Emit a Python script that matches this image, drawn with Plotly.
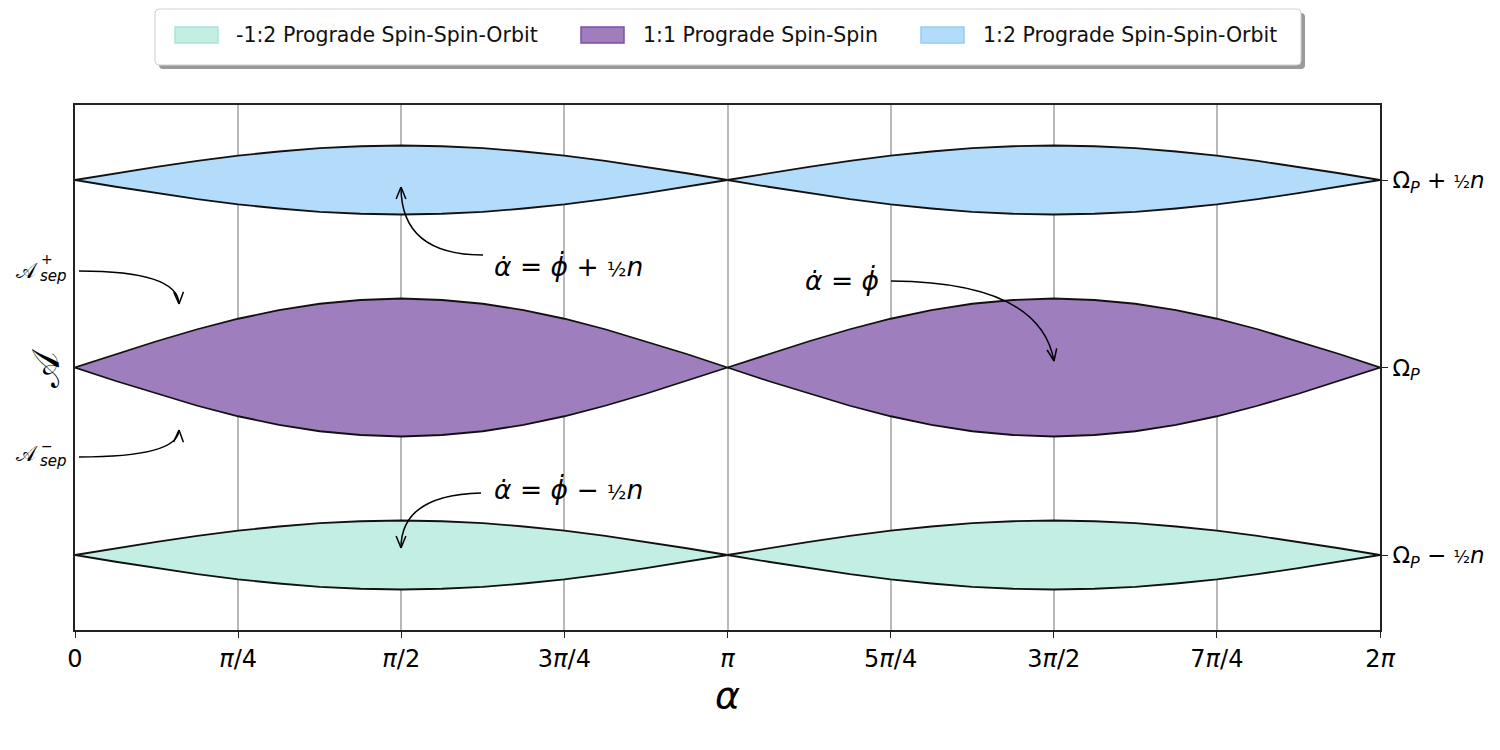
import numpy as np
import plotly.graph_objects as go

FONT = "DejaVu Sans"

# one lobe of each separatrix, alpha from 0 to pi in pi/16 steps
LOBE_STEPS = list(range(17))
HALF_SSO = [0, 0.018, 0.035, 0.051, 0.065, 0.076, 0.085, 0.090, 0.092,
            0.090, 0.085, 0.076, 0.065, 0.051, 0.035, 0.018, 0]
HALF_SS = [0, 0.036, 0.070, 0.102, 0.130, 0.153, 0.170, 0.180, 0.184,
           0.180, 0.170, 0.153, 0.130, 0.102, 0.070, 0.036, 0]

# resonance centres (Omega_P = 0, n = 1)
BANDS = [
    ("-1:2 Prograde Spin-Spin-Orbit", -0.5, HALF_SSO, "#c3eee4", "#a6e5d6"),
    ("1:1 Prograde Spin-Spin", 0.0, HALF_SS, "#9e7ebd", "#7a4fa9"),
    ("1:2 Prograde Spin-Spin-Orbit", 0.5, HALF_SSO, "#b3dcfa", "#96cbf3"),
]
HALF_TICK = "<span style='font-size:17px'>½</span>"
Y_TICKS = [-0.5, 0.0, 0.5]
Y_LABELS = [f"Ω<sub><i>P</i></sub> − {HALF_TICK}<i>n</i>", "Ω<sub><i>P</i></sub>",
            f"Ω<sub><i>P</i></sub> + {HALF_TICK}<i>n</i>"]
X_TICKS = [k * np.pi / 4 for k in range(9)]
X_LABELS = ["0", "<i>π</i>/4", "<i>π</i>/2", "3<i>π</i>/4", "<i>π</i>",
            "5<i>π</i>/4", "3<i>π</i>/2", "7<i>π</i>/4", "2<i>π</i>"]
Y_RANGE = [-0.7, 0.7]

# plot box in page pixels; the page body adds an 8px margin all round
L, R, T, B = 75, 1380, 105, 630
OFF = 8
W, H = 1500 - 2 * OFF, 750 - 2 * OFF


def px(x):
    return (x - L) / (R - L)


def py(y):
    return (B - y) / (B - T)


fig = go.Figure()
lobe_x = np.array(LOBE_STEPS) * np.pi / 16
for name, centre, half, fill, edge in BANDS:
    half = np.array(half)
    for shift in (0, np.pi):
        xs = np.concatenate([lobe_x + shift, (lobe_x + shift)[::-1]])
        ys = np.concatenate([centre + half, (centre - half)[::-1]])
        fig.add_trace(go.Scatter(
            x=xs, y=ys, fill="toself", fillcolor=fill, mode="lines",
            line=dict(color="#111111", width=1.8), name=name,
            showlegend=False, hoverinfo="skip"))

shapes = []
annotations = []


# legend box drawn by hand (shadow + rounded frame)
def rounded(x0, y0, x1, y1, r):
    return (f"M{px(x0 + r)},{py(y0)} L{px(x1 - r)},{py(y0)} Q{px(x1)},{py(y0)} {px(x1)},{py(y0 + r)} "
            f"L{px(x1)},{py(y1 - r)} Q{px(x1)},{py(y1)} {px(x1 - r)},{py(y1)} "
            f"L{px(x0 + r)},{py(y1)} Q{px(x0)},{py(y1)} {px(x0)},{py(y1 - r)} "
            f"L{px(x0)},{py(y0 + r)} Q{px(x0)},{py(y0)} {px(x0 + r)},{py(y0)} Z")


shapes.append(dict(type="path", xref="paper", yref="paper", path=rounded(159, 13, 1305, 69, 4),
                   fillcolor="#9a9a9a", line=dict(width=0), layer="above"))
shapes.append(dict(type="path", xref="paper", yref="paper", path=rounded(155, 9, 1301, 65, 4),
                   fillcolor="white", line=dict(color="#cfcfcf", width=1), layer="above"))
legend_x = [(175, 234), (581, 641), (921, 981)]
for (x0, tx), (name, _, _, fill, edge) in zip(legend_x, BANDS):
    shapes.append(dict(type="rect", xref="paper", yref="paper",
                       x0=px(x0), x1=px(x0 + 43), y0=py(27), y1=py(43),
                       fillcolor=fill, line=dict(color=edge, width=1.5), layer="above"))
    annotations.append(dict(x=px(tx), y=py(35), xref="paper", yref="paper", text=name,
                            showarrow=False, xanchor="left", yanchor="middle",
                            font=dict(family=FONT, size=20.5, color="#111111")))

# curved arrows: start, control, tip (pixels)
ARROWS = [
    ((483, 255), (401, 255), (401, 187)),
    ((891, 281), (1040, 282), (1054, 361)),
    ((481, 493), (401, 495), (401, 548)),
    ((79, 271), (178, 271), (179, 304)),
    ((79, 457), (178, 457), (179, 430)),
]
for (sx, sy), (cx, cy), (tx, ty) in ARROWS:
    shapes.append(dict(type="path", xref="paper", yref="paper",
                       path=f"M{px(sx)},{py(sy)} Q{px(cx)},{py(cy)} {px(tx)},{py(ty)}",
                       line=dict(color="black", width=1.5), layer="above"))
    d = np.array([tx - cx, ty - cy], dtype=float)
    d /= np.hypot(*d)
    for sgn in (1, -1):
        a = np.radians(22) * sgn
        rot = np.array([d[0] * np.cos(a) - d[1] * np.sin(a), d[0] * np.sin(a) + d[1] * np.cos(a)])
        hx, hy = tx - 13 * rot[0], ty - 13 * rot[1]
        shapes.append(dict(type="line", xref="paper", yref="paper",
                           x0=px(tx), y0=py(ty), x1=px(hx), y1=py(hy),
                           line=dict(color="black", width=1.5), layer="above"))

ADOT = "<i>α\u0307</i>"
PDOT = "<i>ϕ\u0307</i>"
HALF_EQ = "<span style='font-size:20px'>½</span>"
LABELS = [
    (568, 266, f"{ADOT} = {PDOT} + {HALF_EQ}<i>n</i>", 26.5),
    (842, 280, f"{ADOT} = {PDOT}", 26.5),
    (568, 489, f"{ADOT} = {PDOT} − {HALF_EQ}<i>n</i>", 26.5),
    (27, 271, "𝒜", 21),
    (47, 259, "+", 14),
    (53, 276, "<i>sep</i>", 15),
    (27, 454, "𝒜", 21),
    (47, 446, "−", 14),
    (53, 461, "<i>sep</i>", 15),
]
for x, y, text, size in LABELS:
    annotations.append(dict(x=px(x), y=py(y), xref="paper", yref="paper", text=text,
                            showarrow=False, xanchor="center", yanchor="middle",
                            font=dict(family=FONT, size=size, color="black")))
annotations.append(dict(x=px(45), y=0.5, xref="paper", yref="paper", text="𝒜",
                        showarrow=False, textangle=-90, xanchor="center", yanchor="middle",
                        font=dict(family=FONT, size=38, color="black")))

fig.update_layout(
    width=W, height=H,
    margin=dict(l=L - OFF, r=W + OFF - R, t=T - OFF, b=H + OFF - B),
    paper_bgcolor="white", plot_bgcolor="white",
    font=dict(family=FONT, size=24, color="black"),
    shapes=shapes, annotations=annotations, showlegend=False,
    xaxis=dict(range=[0, 2 * np.pi], tickvals=X_TICKS, ticktext=X_LABELS,
               showgrid=True, gridcolor="rgba(0,0,0,0.28)", gridwidth=1.5,
               ticks="outside", ticklen=6, tickwidth=1.3, tickcolor="#222",
               showline=True, mirror=True, linecolor="#222", linewidth=1.6,
               zeroline=False, layer="above traces", automargin=False,
               title=dict(text="<i>α</i>", font=dict(size=38), standoff=6)),
    yaxis=dict(range=Y_RANGE, tickvals=Y_TICKS, ticktext=Y_LABELS, side="right",
               tickfont=dict(size=23),
               showgrid=True, gridcolor="rgba(0,0,0,0.28)", gridwidth=1.5,
               ticks="outside", ticklen=6, tickwidth=1.3, tickcolor="#222",
               showline=True, mirror=True, linecolor="#222", linewidth=1.6,
               zeroline=False, layer="above traces", automargin=False),
)

fig.write_html("out.html")
